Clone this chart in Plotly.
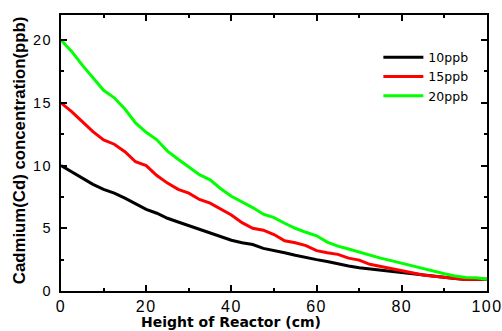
import plotly.graph_objects as go

height_cm = [0, 2.5, 5, 7.5, 10, 12.5, 15, 17.5, 20, 22.5, 25, 27.5, 30, 32.5, 35, 37.5,
             40, 42.5, 45, 47.5, 50, 52.5, 55, 57.5, 60, 62.5, 65, 67.5, 70, 72.5, 75,
             77.5, 80, 82.5, 85, 87.5, 90, 92.5, 95, 97.5, 100]

cd_10ppb = [10.0, 9.5, 9.0, 8.5, 8.1, 7.8, 7.4, 6.95, 6.5, 6.2, 5.8, 5.5, 5.2, 4.9, 4.65, 4.35,
            4.05, 3.85, 3.7, 3.4, 3.25, 3.05, 2.85, 2.65, 2.5, 2.35, 2.15, 2.0, 1.85, 1.75, 1.65,
            1.55, 1.45, 1.35, 1.25, 1.15, 1.1, 1.0, 0.92, 0.92, 0.93]

cd_15ppb = [15.0, 14.3, 13.5, 12.7, 12.05, 11.7, 11.1, 10.3, 10.0, 9.2, 8.6, 8.1, 7.8, 7.3, 7.0, 6.5,
            6.06, 5.45, 5.0, 4.85, 4.5, 4.0, 3.85, 3.62, 3.22, 3.05, 2.92, 2.62, 2.46, 2.13, 1.95,
            1.75, 1.6, 1.4, 1.27, 1.17, 1.08, 1.0, 0.92, 0.93, 0.93]

cd_20ppb = [20.0, 19.1, 18.0, 17.0, 16.0, 15.4, 14.5, 13.4, 12.65, 12.05, 11.15, 10.5, 9.9, 9.27, 8.86, 8.15,
            7.55, 7.1, 6.65, 6.12, 5.85, 5.4, 5.0, 4.68, 4.4, 3.9, 3.58, 3.35, 3.1, 2.85, 2.62,
            2.42, 2.2, 1.98, 1.78, 1.55, 1.37, 1.2, 1.07, 1.06, 0.93]

series_names = ["10ppb", "15ppb", "20ppb"]
series_values = [cd_10ppb, cd_15ppb, cd_20ppb]
series_colors = ["#000000", "#ff0000", "#00ff00"]

x_title = "Height of Reactor (cm)"
y_title = "Cadmium(Cd) concentration(ppb)"

ARIAL = "Liberation Sans, Arial, sans-serif"

fig = go.Figure()
for name, vals, col in zip(series_names, series_values, series_colors):
    fig.add_trace(go.Scatter(x=height_cm, y=vals, mode="lines", name=name,
                             line=dict(color=col, width=3)))

axis_common = dict(
    showgrid=False, zeroline=False, showline=True, linecolor="black", linewidth=2,
    mirror="ticks", ticks="inside", ticklen=6, tickwidth=1.5, tickcolor="black",
    automargin=False,
)

fig.update_layout(
    width=502, height=331,
    margin=dict(l=61, r=15, t=15, b=40, autoexpand=False),
    paper_bgcolor="white", plot_bgcolor="white",
    showlegend=True,
    legend=dict(x=0.745, y=0.90, xanchor="left", yanchor="top",
                bgcolor="rgba(0,0,0,0)", borderwidth=0, itemwidth=40,
                font=dict(family="DejaVu Sans, sans-serif", size=12.5, color="black"),
                tracegroupgap=0),
    xaxis=dict(range=[0, 100], dtick=20, tick0=0, ticklabelstandoff=0,
               tickfont=dict(family=ARIAL, size=16, color="black"),
               minor=dict(dtick=10, ticks="inside", ticklen=3, tickwidth=1.5, tickcolor="black"),
               **axis_common),
    yaxis=dict(range=[0, 22], dtick=5, tick0=0, ticklabelstandoff=4,
               tickfont=dict(family=ARIAL, size=14.5, color="black"),
               minor=dict(dtick=2.5, ticks="inside", ticklen=3, tickwidth=1.5, tickcolor="black"),
               **axis_common),
    annotations=[
        dict(text="<b>" + x_title + "</b>", xref="paper", yref="paper", x=0.399, y=0,
             yshift=-31, xanchor="center", yanchor="middle", showarrow=False,
             font=dict(family="DejaVu Sans, sans-serif", size=14, color="black")),
        dict(text="<b>" + y_title + "</b>", xref="paper", yref="paper", x=0, y=0.51,
             xshift=-42, xanchor="center", yanchor="middle", showarrow=False, textangle=-90,
             font=dict(family=ARIAL, size=16.8, color="black")),
    ],
)

post = """
document.body.style.margin='0';document.body.style.padding='0';
document.querySelectorAll('.xtick text').forEach(function(t){t.style.letterSpacing='1.5px';});
document.querySelectorAll('.ytick text').forEach(function(t){t.style.letterSpacing='1.5px';});
"""

fig.write_html("out.html", post_script=post, config={"displayModeBar": False})
